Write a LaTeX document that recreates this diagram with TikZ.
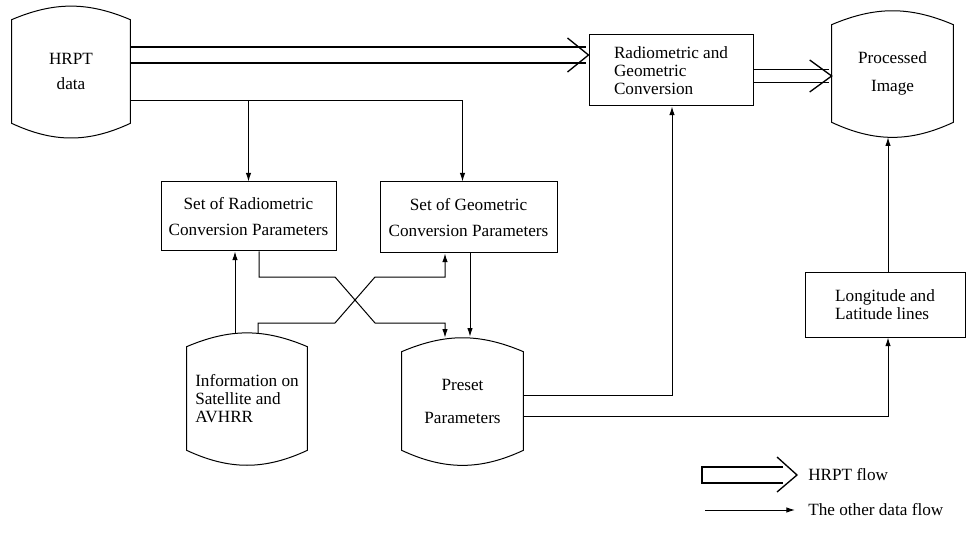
\documentclass[tikz,border=0pt]{standalone}
\usepackage{fontspec}
\setmainfont{Liberation Serif}
\usetikzlibrary{positioning,arrows.meta,calc}

\begin{document}
\begin{tikzpicture}[
        x=0.6pt, y=-0.6pt,
        every node/.style={font=\fontsize{10.3}{10.8}\selectfont, inner sep=0pt},
        box/.style={draw, line width=0.6pt, align=center},
        drum/.style={align=center},
        arrow/.style={-{Latex[length=5.2pt,width=3.3pt]}, line width=0.6pt},
        flow/.style={line width=0.8pt},
        legtext/.style={anchor=west}
    ]
    \useasboundingbox (0,0) rectangle (966,536);

    % data stores
    \node[drum, minimum width=70.8pt, minimum height=61.8pt] (hrpt) at (71,71.5) {HRPT\\[4.2pt]data};
    \node[drum, minimum width=72.6pt, minimum height=58.2pt] (procimg) at (892.5,73.5) {Processed\\[6pt]Image};
    \node[drum, align=left, minimum width=72pt, minimum height=61.8pt] (info) at (247,398.5) {Information on\\Satellite and\\AVHRR};
    \node[drum, minimum width=72.6pt, minimum height=58.8pt] (preset) at (462.5,401) {Preset\\[9pt]Parameters};
    \foreach \n in {hrpt,procimg,info,preset}
        \draw[line width=0.6pt] (\n.north west) to[bend left=23] (\n.north east) -- (\n.south east) to[bend left=25] (\n.south west) -- cycle;

    % processing blocks
    \node[box, align=left, minimum width=98.4pt, minimum height=42.6pt] (radconv) at (671,70.5) {Radiometric and\\Geometric\\Conversion};
    \node[box, align=left, minimum width=96pt, minimum height=39pt] (lonlat) at (885,304.5) {Longitude and\\Latitude lines};
    \node[box, minimum width=105pt, minimum height=41.4pt] (radset) at (248.5,216.5) {Set of Radiometric\\[4.8pt]Conversion Parameters};
    \node[box, minimum width=106.2pt, minimum height=42.6pt] (geomset) at (468.5,217.5) {Set of Geometric\\[4.8pt]Conversion Parameters};

    % HRPT flow
    \coordinate (tipA) at ($(radconv.west)+(0,-15.5)$);
    \draw[flow] ($(hrpt.east |- tipA)+(0,-8)$) -- ($(tipA)+(-3,-8)$);
    \draw[flow] ($(hrpt.east |- tipA)+(0,8)$) -- ($(tipA)+(-3,8)$);
    \draw[flow] ($(tipA)+(-21,-17)$) -- (tipA) -- ($(tipA)+(-21,17)$);

    \coordinate (tipB) at ($(procimg.west)+(0,2.5)$);
    \draw[flow] ($(radconv.east |- tipB)+(0,-6.5)$) -- ($(tipB)+(-3,-6.5)$);
    \draw[flow] ($(radconv.east |- tipB)+(0,6.5)$) -- ($(tipB)+(-3,6.5)$);
    \draw[flow] ($(tipB)+(-22,-16)$) -- (tipB) -- ($(tipB)+(-22,16)$);

    % other data flow
    \coordinate (hrptout) at ($(hrpt.east)+(0,29.5)$);
    \draw[arrow] (hrptout) -| ($(geomset.north)+(-6,0)$);
    \draw[arrow] (hrptout -| radset.north) -- (radset.north);

    \coordinate (infoA) at ($(info.north)+(-12,-13)$);
    \draw[arrow] (infoA) -- (infoA |- radset.south);

    \coordinate (cross) at (355,300);
    \coordinate (radB) at ($(radset.south)+(10.5,0)$);
    \coordinate (infoB) at ($(info.north)+(11,-13)$);
    \draw[arrow] (radB) |- ($(cross)+(-20,-23)$) -- ($(cross)+(20,23)$) -| ($(preset.north)+(-17.5,-14)$);
    \draw[arrow] (infoB) |- ($(cross)+(-20,23)$) -- ($(cross)+(20,-23)$) -| ($(geomset.south)+(-23.5,0)$);

    \draw[arrow] ($(geomset.south)+(1.5,0)$) -- ($(preset.north)+(7.5,-15)$);
    \draw[arrow] ($(preset.east)+(0,-6)$) -| ($(radconv.south)+(1,0)$);
    \draw[arrow] ($(preset.east)+(0,15)$) -| ($(lonlat.south)+(3,0)$);
    \draw[arrow] ($(lonlat.north)+(3,0)$) -- ($(procimg.south)+(-4.5,15)$);

    % legend
    \node[legtext] (hrptleg) at (808,475) {HRPT flow};
    \node[legtext] (otherleg) at (808,510) {The other data flow};
    \coordinate (legtip) at ($(hrptleg.west)+(-11,0)$);
    \draw[flow] ($(legtip)+(-14,-8)$) -- ($(legtip)+(-95,-8)$) -- ($(legtip)+(-95,8)$) -- ($(legtip)+(-14,8)$);
    \draw[flow] ($(legtip)+(-20,-18)$) -- (legtip) -- ($(legtip)+(-20,17)$);
    \coordinate (legstart) at (705,510);
    \draw[arrow] (legstart) -- ($(otherleg.west)+(-13,0)$);

\end{tikzpicture}
\end{document}
